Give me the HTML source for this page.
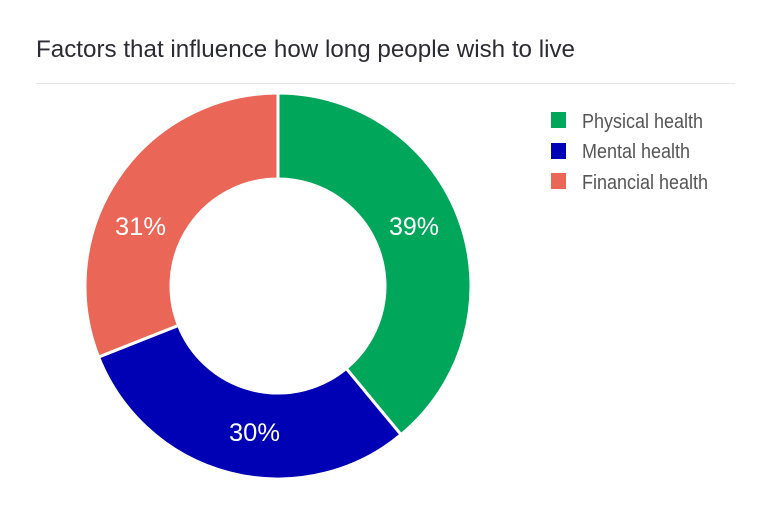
<!DOCTYPE html>
<html><head><meta charset="utf-8"><style>
html,body{margin:0;padding:0;background:#fff;width:768px;height:511px;overflow:hidden}
svg{display:block}
text{font-family:"Liberation Sans Narrow","Liberation Sans",sans-serif}
</style></head><body>
<svg width="768" height="511" viewBox="0 0 768 511">
<text x="36" y="57" font-size="24" fill="#2b2b33" textLength="539" lengthAdjust="spacingAndGlyphs">Factors that influence how long people wish to live</text>
<line x1="36" y1="83.5" x2="735" y2="83.5" stroke="#e6e6e6" stroke-width="1"/>
<g stroke="#fff" stroke-width="3" stroke-linejoin="miter">
<path id="g" fill="#00a65a"/>
<path id="b" fill="#0000b4"/>
<path id="r" fill="#ea6656"/>
</g>
<g fill="#fff" font-size="25">
<text x="389" y="235" textLength="50" lengthAdjust="spacingAndGlyphs">39%</text>
<text x="115" y="235" textLength="51" lengthAdjust="spacingAndGlyphs">31%</text>
<text x="229" y="441" textLength="51" lengthAdjust="spacingAndGlyphs">30%</text>
</g>
<rect x="551" y="112" width="15" height="16" fill="#00a65a"/>
<rect x="551" y="143" width="15" height="16" fill="#0000b4"/>
<rect x="551" y="173" width="15" height="16" fill="#ea6656"/>
<g fill="#555" font-size="20">
<text x="582" y="128" textLength="121" lengthAdjust="spacingAndGlyphs">Physical health</text>
<text x="582" y="158" textLength="108" lengthAdjust="spacingAndGlyphs">Mental health</text>
<text x="582" y="189" textLength="126" lengthAdjust="spacingAndGlyphs">Financial health</text>
</g>
</svg>
<script>
var cx=278,cy=286,R=193,r=107;
function pt(a,rad){a=a*Math.PI/180;return [cx+rad*Math.sin(a),cy-rad*Math.cos(a)];}
function arc(a0,a1){var l=(a1-a0)>180?1:0,p1=pt(a0,R),p2=pt(a1,R),p3=pt(a1,r),p4=pt(a0,r);
return "M"+p1+"A"+R+","+R+" 0 "+l+" 1 "+p2+"L"+p3+"A"+r+","+r+" 0 "+l+" 0 "+p4+"Z";}
document.getElementById('g').setAttribute('d',arc(0,140.4));
document.getElementById('b').setAttribute('d',arc(140.4,248.4));
document.getElementById('r').setAttribute('d',arc(248.4,360));
</script>
</body></html>
